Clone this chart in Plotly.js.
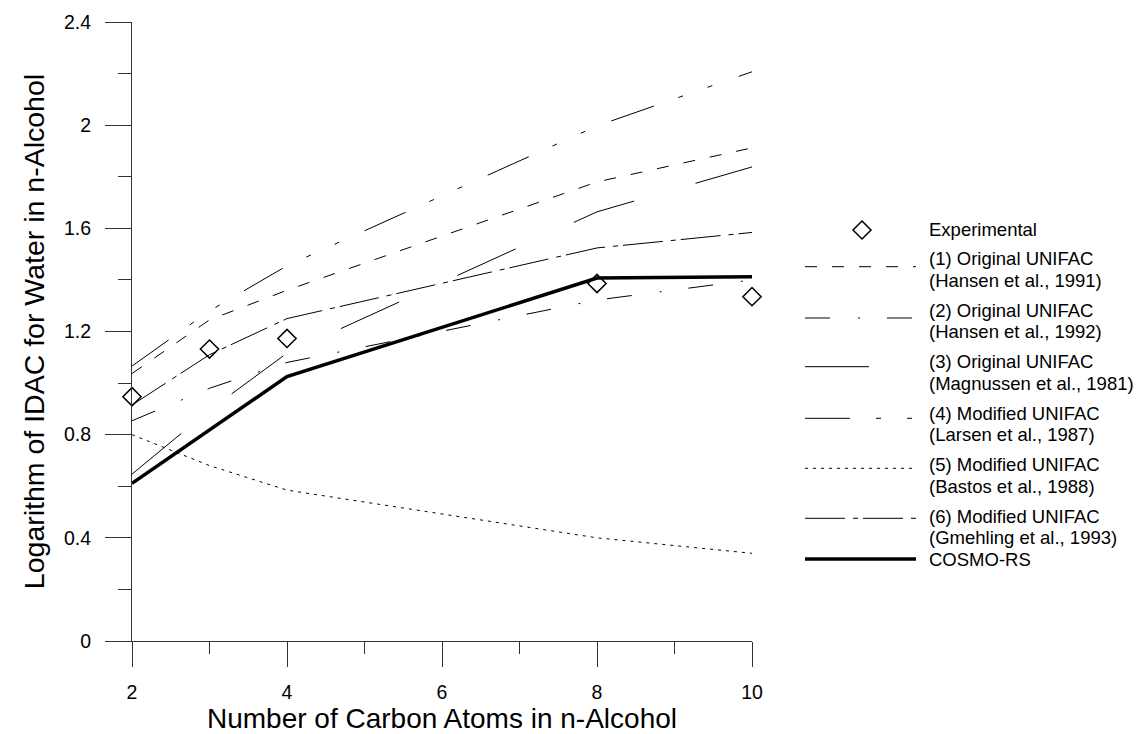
<!DOCTYPE html>
<html>
<head>
<meta charset="utf-8">
<script src="https://cdn.plot.ly/plotly-3.0.1.min.js"></script>
<style>
  html, body { margin: 0; padding: 0; background: #fff; }
  #chart { width: 1146px; height: 734px; }
</style>
</head>
<body>
<div id="chart"></div>
<script>
// Number of carbon atoms in the n-alcohol solvent
const carbonAtoms = [2, 3, 4, 8, 10];

// log10 of the infinite-dilution activity coefficient of water
const experimental  = [0.947, 1.132, 1.173, 1.386, 1.335];
const hansen1991    = [1.037, 1.245, 1.360, 1.780, 1.912];
const hansen1992    = [0.854, 0.980, 1.080, 1.322, 1.400];
const magnussen1981 = [0.647, 0.895, 1.116, 1.664, 1.838];
const larsen1987    = [1.066, 1.280, 1.455, 1.997, 2.207];
const bastos1988    = [0.800, 0.680, 0.585, 0.400, 0.340];
const gmehling1993  = [0.915, 1.110, 1.250, 1.524, 1.584];
const cosmoRS       = [0.611, 0.818, 1.025, 1.407, 1.412];

const legendLabels = [
  ["Experimental"],
  ["(1) Original UNIFAC", "(Hansen et al., 1991)"],
  ["(2) Original UNIFAC", "(Hansen et al., 1992)"],
  ["(3) Original UNIFAC", "(Magnussen et al., 1981)"],
  ["(4) Modified UNIFAC", "(Larsen et al., 1987)"],
  ["(5) Modified UNIFAC", "(Bastos et al., 1988)"],
  ["(6) Modified UNIFAC", "(Gmehling et al., 1993)"],
  ["COSMO-RS"]
];

const FONT = "Arial, 'Liberation Sans', sans-serif";

// line styles for each model curve
const styles = {
  h91: { dash: "12px,15px", width: 1 },
  h92: { dash: "25px,28px,2px,27px", width: 1 },
  m81: { dash: "64px,64px", width: 1 },
  l87: { dash: "45px,26px,5px,26px,5px,28px", width: 1 },
  b88: { dash: "3px,5px", width: 1 },
  g93: { dash: "40px,8px,5px,5px", width: 1 },
  cosmo: { dash: "solid", width: 3.5 }
};

function lineTrace(y, st, name) {
  return {
    x: carbonAtoms, y: y, name: name, type: "scatter", mode: "lines",
    line: { color: "#000", width: st.width, dash: st.dash },
    hoverinfo: "x+y+name"
  };
}

const traces = [
  lineTrace(hansen1991, styles.h91, "(1) Hansen 1991"),
  lineTrace(hansen1992, styles.h92, "(2) Hansen 1992"),
  lineTrace(magnussen1981, styles.m81, "(3) Magnussen 1981"),
  lineTrace(larsen1987, styles.l87, "(4) Larsen 1987"),
  lineTrace(bastos1988, styles.b88, "(5) Bastos 1988"),
  lineTrace(gmehling1993, styles.g93, "(6) Gmehling 1993"),
  lineTrace(cosmoRS, styles.cosmo, "COSMO-RS"),
  {
    x: carbonAtoms, y: experimental, name: "Experimental", type: "scatter", mode: "markers",
    marker: { symbol: "diamond-open", size: 14, color: "#000", line: { width: 1.5, color: "#000" } },
    cliponaxis: false
  }
];

// plot-area box in pixels, used to place the hand-drawn legend
const plotL = 132, plotR = 752, plotT = 22, plotB = 641;
const px2x = px => (px - plotL) / (plotR - plotL);
const py2y = py => (plotB - py) / (plotB - plotT);

const sampleX0 = 805, sampleX1 = 916, textX = 927;
const lineGap = 21.5;
// [first text line y, sample line y, style]
const legendRows = [
  [230, 230, null],
  [258.5, 266.7, styles.h91],
  [310, 318, styles.h92],
  [361.5, 366.7, styles.m81],
  [413, 418.3, styles.l87],
  [464.5, 468.3, styles.b88],
  [516, 518.3, styles.g93],
  [559, 559, styles.cosmo]
];

const shapes = [];
const annotations = [];
legendRows.forEach((row, i) => {
  const [ty, sy, st] = row;
  legendLabels[i].forEach((txt, k) => {
    annotations.push({
      xref: "paper", yref: "paper", x: px2x(textX), y: py2y(ty + k * lineGap),
      xanchor: "left", yanchor: "middle", showarrow: false, text: txt,
      font: { family: FONT, size: 18.5, color: "#000" }
    });
  });
  if (st) {
    shapes.push({
      type: "line", xref: "paper", yref: "paper",
      x0: px2x(sampleX0), x1: px2x(sampleX1), y0: py2y(sy), y1: py2y(sy),
      line: { color: "#000", width: st.width, dash: st.dash }
    });
  } else {
    shapes.push({
      type: "path", xref: "paper", yref: "paper",
      xsizemode: "pixel", ysizemode: "pixel",
      xanchor: px2x(862), yanchor: py2y(sy),
      path: "M0,9L9,0L0,-9L-9,0Z",
      line: { color: "#000", width: 1.5 }, fillcolor: "rgba(0,0,0,0)"
    });
  }
});

const axisCommon = {
  showgrid: false, zeroline: false, showline: true,
  linecolor: "#333", linewidth: 1,
  ticks: "outside", tickcolor: "#333", tickwidth: 1,
  tickfont: { family: FONT, size: 19.5, color: "#000" }
};

const layout = {
  width: 1146, height: 734,
  margin: { l: plotL, r: 1146 - plotR, t: plotT, b: 734 - plotB },
  paper_bgcolor: "#fff", plot_bgcolor: "#fff",
  showlegend: false,
  xaxis: Object.assign({}, axisCommon, {
    range: [2, 10], tickmode: "linear", tick0: 2, dtick: 2,
    ticklen: 25, ticklabelstandoff: 9,
    minor: { ticks: "outside", dtick: 1, ticklen: 12, tickcolor: "#333", tickwidth: 1 },
    title: { text: "Number of Carbon Atoms in n-Alcohol", standoff: 11,
             font: { family: FONT, size: 28, color: "#000" } }
  }),
  yaxis: Object.assign({}, axisCommon, {
    range: [0, 2.4], tickmode: "linear", tick0: 0, dtick: 0.4,
    ticklen: 26, ticklabelstandoff: 10,
    minor: { ticks: "outside", dtick: 0.2, ticklen: 13, tickcolor: "#333", tickwidth: 1 },
    title: { text: "Logarithm of IDAC for Water in n-Alcohol", standoff: 11,
             font: { family: FONT, size: 28.5, color: "#000" } }
  }),
  shapes: shapes,
  annotations: annotations
};

Plotly.newPlot("chart", traces, layout, { staticPlot: true, displayModeBar: false });
</script>
</body>
</html>
